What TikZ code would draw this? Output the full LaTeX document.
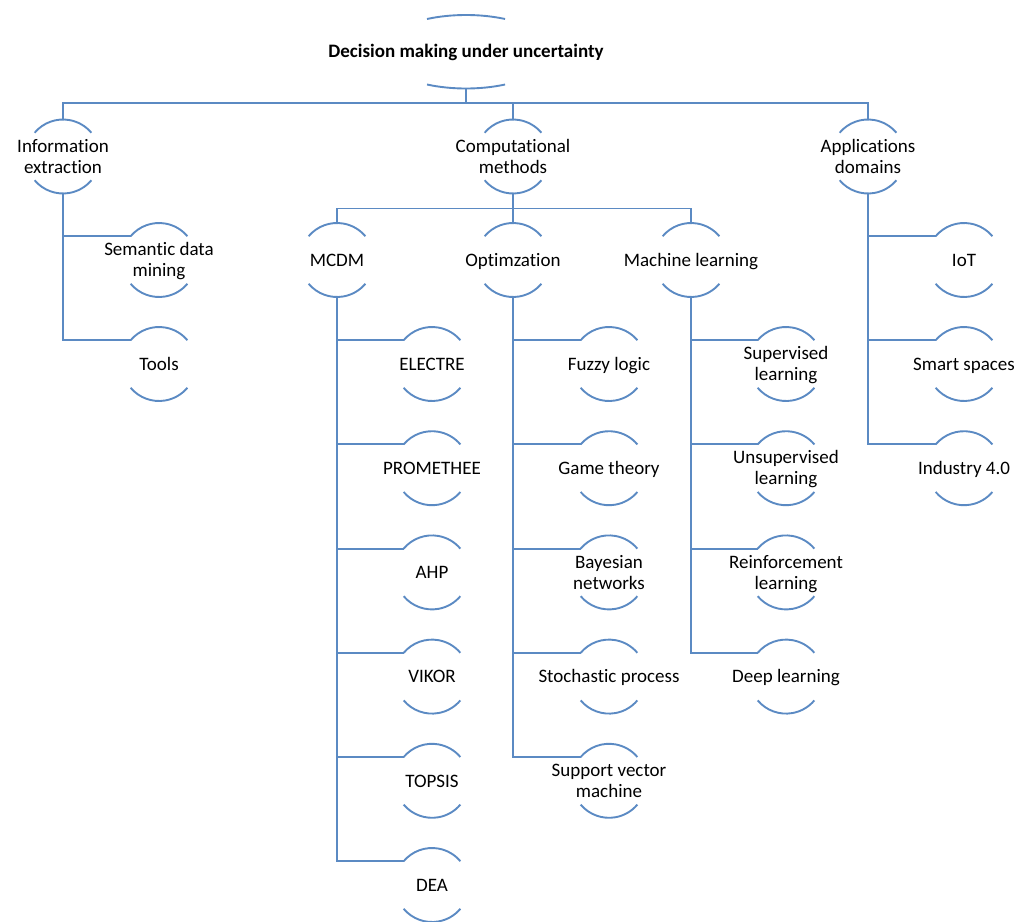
\documentclass[tikz,border=0pt]{standalone}
\usepackage{fontspec}
\setmainfont{Carlito}[Ligatures=NoCommon]
\usetikzlibrary{shapes.geometric,calc}
\definecolor{linkblue}{HTML}{5B8AC3}
% label set in a zero-width box so that the shape keeps its fixed size
\newcommand\lbl[1]{\makebox[0pt]{\raisebox{-2pt}[\height][\depth]{\begin{tabular}{@{}c@{}}#1\end{tabular}}}}
\tikzset{
  link/.style={draw=linkblue, line width=1.9pt},
  topic/.style={circle, minimum size=74pt, inner sep=0pt, outer sep=0pt,
    font=\fontsize{19}{21}\selectfont, text=black},
  rootnode/.style={ellipse, minimum width=172pt, minimum height=73.5pt,
    inner sep=0pt, outer sep=0pt,
    font=\fontsize{19}{21}\selectfont\bfseries, text=black}
}
\begin{document}
\begin{tikzpicture}[x=1pt,y=1pt]
\useasboundingbox (0,0) rectangle (1030,-921);

% root
\node[rootnode] (root) at (466,-51.75) {\lbl{Decision making under uncertainty}};

% first level
\node[topic] (info) at (63,-156.5) {\lbl{Information\\extraction}};
\node[topic] (comp) at (513,-156.5) {\lbl{Computational\\methods}};
\node[topic] (appl) at (868,-156.5) {\lbl{Applications\\domains}};

% second level
\node[topic] (mcdm) at (337,-260) {\lbl{MCDM}};
\node[topic] (opti) at (513,-260) {\lbl{Optimzation}};
\node[topic] (mlrn) at (691,-260) {\lbl{Machine learning}};

% leaves of information extraction
\node[topic] (sdm)   at (159,-260) {\lbl{Semantic data\\mining}};
\node[topic] (tools) at (159,-364) {\lbl{Tools}};

% leaves of MCDM
\node[topic] (electre) at (432,-364)   {\lbl{ELECTRE}};
\node[topic] (prom)    at (432,-468.2) {\lbl{PROMETHEE}};
\node[topic] (ahp)     at (432,-572.4) {\lbl{AHP}};
\node[topic] (vikor)   at (432,-676.6) {\lbl{VIKOR}};
\node[topic] (topsis)  at (432,-780.8) {\lbl{TOPSIS}};
\node[topic] (dea)     at (432,-885)   {\lbl{DEA}};

% leaves of optimization
\node[topic] (fuzzy) at (609,-364)   {\lbl{Fuzzy logic}};
\node[topic] (game)  at (609,-468.2) {\lbl{Game theory}};
\node[topic] (bayes) at (609,-572.4) {\lbl{Bayesian\\networks}};
\node[topic] (stoch) at (609,-676.6) {\lbl{Stochastic process}};
\node[topic] (svm)   at (609,-780.8) {\lbl{Support vector\\machine}};

% leaves of machine learning
\node[topic] (sup)   at (786,-364)   {\lbl{Supervised\\learning}};
\node[topic] (unsup) at (786,-468.2) {\lbl{Unsupervised\\learning}};
\node[topic] (reinf) at (786,-572.4) {\lbl{Reinforcement\\learning}};
\node[topic] (deep)  at (786,-676.6) {\lbl{Deep learning}};

% leaves of application domains
\node[topic] (iot)   at (964,-260)   {\lbl{IoT}};
\node[topic] (smart) at (964,-364)   {\lbl{Smart spaces}};
\node[topic] (ind)   at (964,-468.2) {\lbl{Industry 4.0}};

% arcs above and below each topic
\foreach \n in {info,comp,appl,mcdm,opti,mlrn,sdm,tools,electre,prom,ahp,vikor,
  topsis,dea,fuzzy,game,bayes,stoch,svm,sup,unsup,reinf,deep,iot,smart,ind}{
  \draw[link] (\n.140) arc[start angle=140, end angle=40, radius=37pt];
  \draw[link] (\n.220) arc[start angle=220, end angle=320, radius=37pt];
}
\draw[link] ($(root.center)+(-39,32.75)$) arc[start angle=117, end angle=63, x radius=86pt, y radius=36.75pt];
\draw[link] ($(root.center)+(-39,-32.75)$) arc[start angle=243, end angle=297, x radius=86pt, y radius=36.75pt];

% root to first level
\foreach \c in {info,comp,appl}
  \draw[link] (root.south) -- ++(0,-14.5) -| (\c.north);

% computational methods to second level
\foreach \c in {mcdm,opti,mlrn}
  \draw[link] (comp.south) -- ++(0,-15) -| (\c.north);

% parents to leaves
\foreach \p/\c in {info/sdm,info/tools,
  mcdm/electre,mcdm/prom,mcdm/ahp,mcdm/vikor,mcdm/topsis,mcdm/dea,
  opti/fuzzy,opti/game,opti/bayes,opti/stoch,opti/svm,
  mlrn/sup,mlrn/unsup,mlrn/reinf,mlrn/deep,
  appl/iot,appl/smart,appl/ind}
  \draw[link] (\p.south) |- (\c.140);
\end{tikzpicture}
\end{document}
